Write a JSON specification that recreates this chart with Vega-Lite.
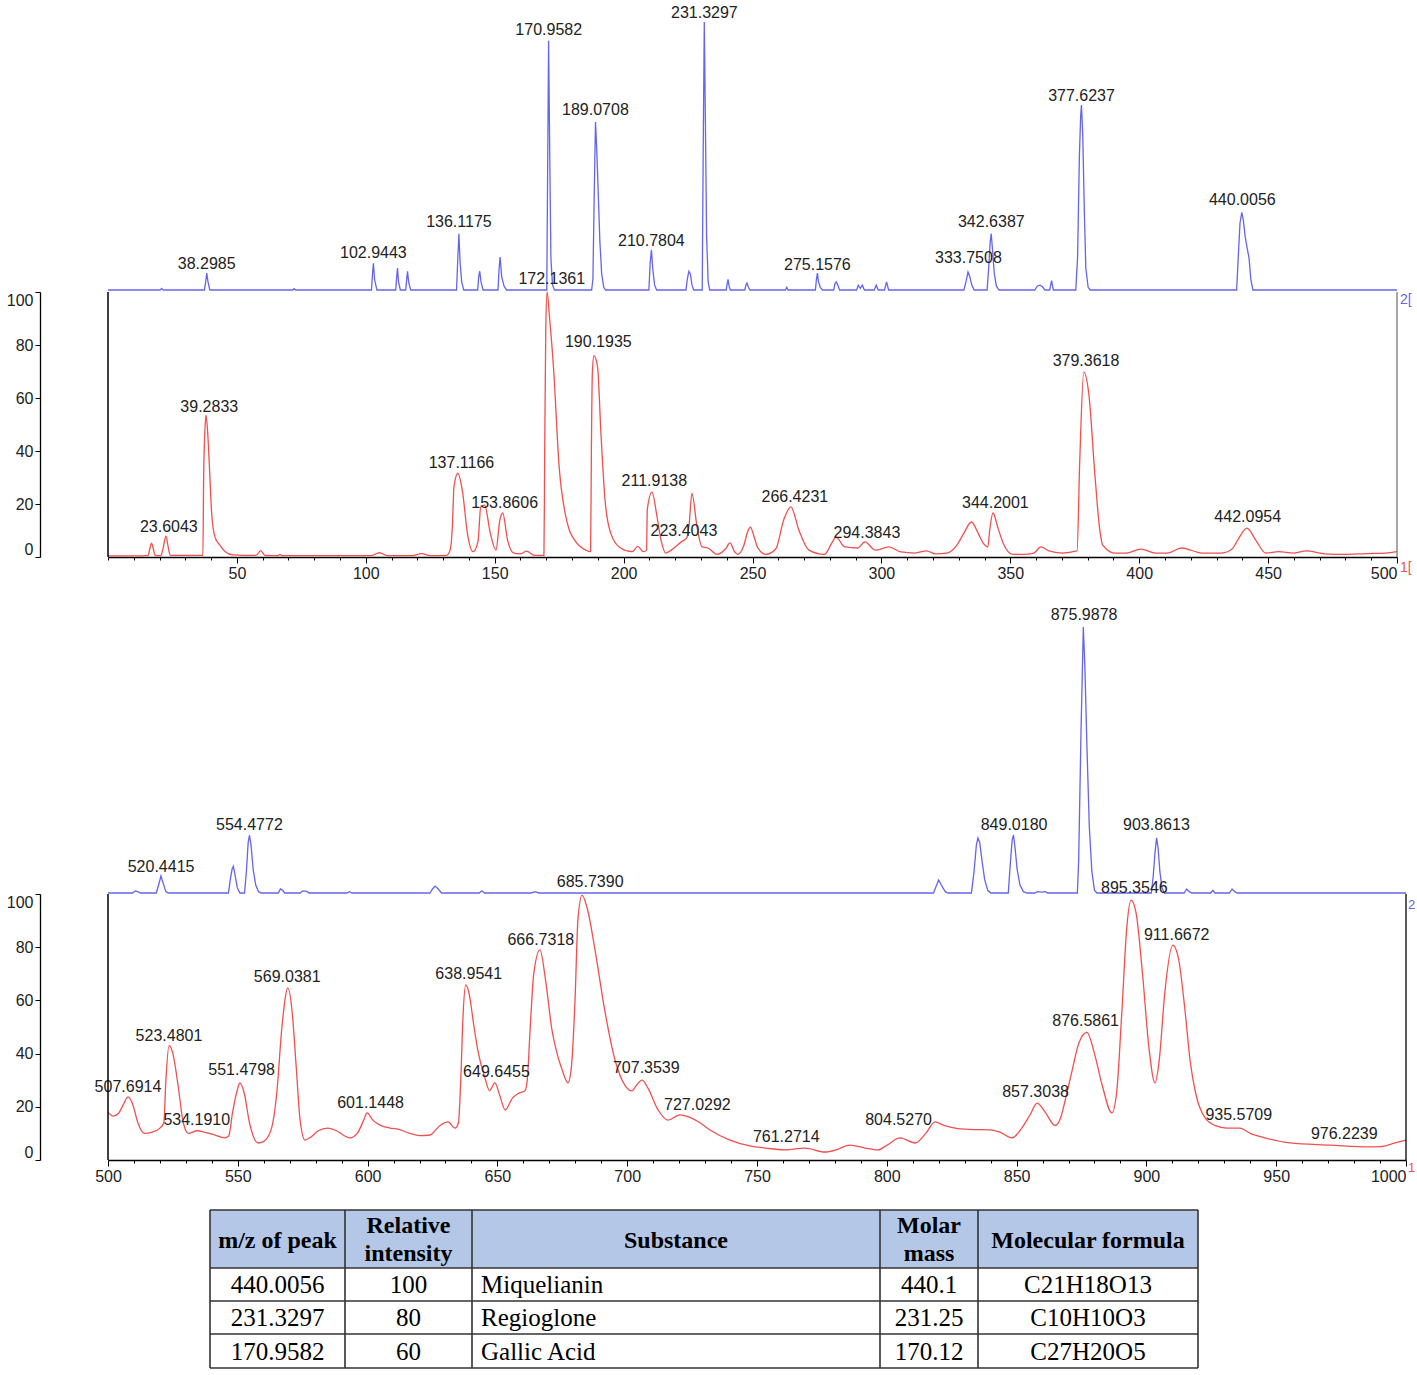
{
"$schema": "https://vega.github.io/schema/vega-lite/v6.json",
"padding": {"left": 6, "top": 0, "right": 0, "bottom": 0},
"spacing": 0,
"bounds": "flush",
"background": "white",
"config": {"view": {"stroke": null}, "font": "Liberation Sans",
  "axis": {"grid": false, "labelFont": "Liberation Sans", "labelFontSize": 16, "labelColor": "#222", "domainColor": "#000", "tickColor": "#000", "labelOverlap": false, "labelPadding": 2, "domainWidth": 1.3, "tickWidth": 1, "labelBound": false}},
"datasets": {
"blueTop": [
{"m":0,"i":0},{"m":20.2,"i":0},{"m":20.8,"i":0.6},{"m":21.4,"i":0},
{"m":37.4,"i":0},{"m":37.9,"i":3},{"m":38.3,"i":6.3},{"m":38.8,"i":3},{"m":39.5,"i":0},
{"m":71.6,"i":0},{"m":72.2,"i":0.5},{"m":72.8,"i":0},
{"m":102.2,"i":0},{"m":102.6,"i":6},{"m":102.95,"i":10},{"m":103.4,"i":4},{"m":104.3,"i":0},
{"m":111.6,"i":0},{"m":112,"i":5},{"m":112.3,"i":8.2},{"m":112.7,"i":3},{"m":113.4,"i":0},
{"m":115.5,"i":0},{"m":115.9,"i":4.5},{"m":116.2,"i":7},{"m":116.6,"i":3},{"m":117.4,"i":0},
{"m":135.2,"i":0},{"m":135.7,"i":12},{"m":136.1,"i":21},{"m":136.6,"i":10},{"m":137.2,"i":3},{"m":138,"i":0},
{"m":143.4,"i":0},{"m":143.8,"i":5},{"m":144.2,"i":7},{"m":144.7,"i":3},{"m":145.5,"i":0},
{"m":151.3,"i":0},{"m":151.7,"i":8},{"m":152.1,"i":12.3},{"m":152.7,"i":5},{"m":153.6,"i":1.5},{"m":154.6,"i":0},
{"m":170.2,"i":0},{"m":170.5,"i":40},{"m":170.9,"i":93},{"m":171.3,"i":55},{"m":171.8,"i":12},{"m":172.4,"i":2},{"m":173.2,"i":0},
{"m":187.6,"i":0},{"m":188.1,"i":4},{"m":188.6,"i":35},{"m":189.1,"i":62.7},{"m":189.6,"i":52},{"m":190.2,"i":35},{"m":190.8,"i":18},{"m":191.5,"i":6},{"m":192.3,"i":1},{"m":193,"i":0},
{"m":209.8,"i":0},{"m":210.3,"i":10},{"m":210.8,"i":15},{"m":211.3,"i":8},{"m":212,"i":2},{"m":212.8,"i":0},
{"m":224.2,"i":0},{"m":224.7,"i":4},{"m":225.3,"i":7},{"m":225.9,"i":6},{"m":226.5,"i":2},{"m":227.2,"i":0},
{"m":230.5,"i":0},{"m":230.9,"i":55},{"m":231.3,"i":100},{"m":231.7,"i":65},{"m":232.2,"i":20},{"m":232.8,"i":3},{"m":233.4,"i":0},
{"m":239.8,"i":0},{"m":240.2,"i":2.5},{"m":240.5,"i":4},{"m":240.9,"i":1.5},{"m":241.4,"i":0},
{"m":247,"i":0},{"m":247.5,"i":2},{"m":247.9,"i":2.6},{"m":248.4,"i":1},{"m":249,"i":0},
{"m":262.8,"i":0},{"m":263.3,"i":1},{"m":263.8,"i":0},
{"m":274.4,"i":0},{"m":274.8,"i":4},{"m":275.2,"i":6.3},{"m":275.6,"i":3},{"m":276.3,"i":1},{"m":277.2,"i":0},
{"m":281.5,"i":0},{"m":282,"i":2.5},{"m":282.5,"i":3},{"m":283,"i":2},{"m":283.8,"i":0},
{"m":290.4,"i":0},{"m":291,"i":1.8},{"m":291.8,"i":0.6},{"m":292.6,"i":1.8},{"m":293.4,"i":0},
{"m":297.2,"i":0},{"m":298,"i":1.8},{"m":298.8,"i":0},
{"m":301.2,"i":0},{"m":302,"i":3},{"m":302.8,"i":0},
{"m":332,"i":0},{"m":332.8,"i":3},{"m":333.6,"i":6.7},{"m":334.3,"i":5},{"m":335,"i":2},{"m":336,"i":0},
{"m":341,"i":0},{"m":341.6,"i":8},{"m":342.2,"i":18},{"m":342.6,"i":21},{"m":343.1,"i":15},{"m":343.8,"i":6},{"m":344.6,"i":1.5},{"m":345.6,"i":0},
{"m":359.5,"i":0},{"m":360.5,"i":1.5},{"m":361.5,"i":1.8},{"m":362.5,"i":1.2},{"m":363.4,"i":0},
{"m":365.3,"i":0},{"m":366,"i":3.5},{"m":366.7,"i":0},
{"m":375.4,"i":0},{"m":376.1,"i":12},{"m":376.8,"i":50},{"m":377.3,"i":65},{"m":377.6,"i":69},{"m":378.1,"i":58},{"m":378.7,"i":30},{"m":379.3,"i":8},{"m":380.2,"i":1},{"m":381,"i":0},
{"m":437.8,"i":0},{"m":438.3,"i":10},{"m":439.1,"i":25},{"m":439.8,"i":29},{"m":440.4,"i":26},{"m":441.1,"i":20},{"m":441.8,"i":16},{"m":442.6,"i":12},{"m":443.3,"i":4},{"m":444.1,"i":0},
{"m":500,"i":0}
],
"labTopBlue": [
{"m":38.2985,"ly":9.7,"t":"38.2985"},{"m":102.9443,"ly":13.8,"t":"102.9443"},{"m":136.1175,"ly":25.4,"t":"136.1175"},
{"m":170.9582,"ly":97,"t":"170.9582"},{"m":189.0708,"ly":67.2,"t":"189.0708"},{"m":210.7804,"ly":18.3,"t":"210.7804"},
{"m":231.3297,"ly":103.4,"t":"231.3297"},{"m":275.1576,"ly":9.3,"t":"275.1576"},{"m":333.7508,"ly":11.9,"t":"333.7508"},
{"m":342.6387,"ly":25.4,"t":"342.6387"},{"m":377.6237,"ly":72.4,"t":"377.6237"},{"m":440.0056,"ly":33.6,"t":"440.0056"}
],
"redTop": [
{"m":0,"i":0.4},{"m":10,"i":0.4},{"m":15.5,"i":0.5},{"m":16.2,"i":3},{"m":16.9,"i":5.2},{"m":17.6,"i":3},{"m":18.3,"i":0.6},{"m":20.5,"i":0.5},{"m":21.3,"i":3},{"m":22.5,"i":7.9},{"m":23.3,"i":4},{"m":24.2,"i":0.6},
{"m":36.8,"i":0.6},{"m":37.1,"i":30},{"m":37.6,"i":48},{"m":38,"i":53.6},{"m":38.6,"i":48},{"m":39.3,"i":35},{"m":40.2,"i":16.6},{"m":41.5,"i":7.5},{"m":43.4,"i":4.5},{"m":45.5,"i":2},{"m":48.5,"i":0.8},
{"m":57.5,"i":0.6},{"m":59.2,"i":2.4},{"m":61,"i":0.6},{"m":66,"i":0.5},{"m":66.7,"i":1},{"m":67.5,"i":0.5},{"m":102,"i":0.5},{"m":105.3,"i":1.6},{"m":108.5,"i":0.5},{"m":118,"i":0.5},{"m":121.6,"i":1.3},{"m":125,"i":0.5},
{"m":131.3,"i":0.6},{"m":132.7,"i":2.6},{"m":133.6,"i":12},{"m":134.2,"i":26.5},{"m":135.7,"i":31.6},{"m":137.6,"i":24},{"m":139.4,"i":9},{"m":141.6,"i":2},{"m":143.5,"i":5.7},{"m":144.6,"i":19},{"m":146.1,"i":19.6},{"m":148.3,"i":9},{"m":150.5,"i":2.6},{"m":152,"i":14},{"m":153.1,"i":16.6},{"m":155,"i":6.4},{"m":157.2,"i":1.6},{"m":160,"i":1.2},{"m":162.4,"i":2.2},{"m":165.4,"i":0.6},{"m":168.4,"i":0.6},
{"m":169.1,"i":0.6},{"m":169.4,"i":40},{"m":169.8,"i":85},{"m":170.3,"i":100},{"m":171.3,"i":90},{"m":172.8,"i":71.7},{"m":175,"i":34},{"m":177.3,"i":16.6},{"m":179,"i":10},{"m":181,"i":6.4},{"m":185.4,"i":2.6},
{"m":187.2,"i":2},{"m":187.5,"i":40},{"m":187.9,"i":70},{"m":188.5,"i":76},{"m":189.9,"i":71.7},{"m":191.2,"i":46.8},{"m":192.8,"i":21.5},{"m":195,"i":9},{"m":198.8,"i":3.4},{"m":203.3,"i":2},{"m":205.5,"i":4},{"m":207.7,"i":2},
{"m":208.9,"i":2.5},{"m":209.2,"i":18},{"m":211,"i":24.5},{"m":213,"i":15},{"m":214.5,"i":6.4},{"m":216.4,"i":1.5},{"m":218.5,"i":2.6},{"m":222.5,"i":5.8},{"m":224.5,"i":7.2},{"m":225.4,"i":12},{"m":226.5,"i":24},{"m":228.5,"i":11.3},{"m":230.4,"i":3.8},{"m":232.7,"i":3.4},{"m":236.2,"i":1},
{"m":239.5,"i":3},{"m":241.3,"i":5.3},{"m":243,"i":2},{"m":244.3,"i":1},{"m":246.5,"i":4},{"m":248.3,"i":10},{"m":249.2,"i":11.3},{"m":250.5,"i":8},{"m":252.1,"i":3.4},{"m":255.2,"i":1},{"m":259,"i":3},{"m":262.1,"i":14},{"m":264.9,"i":18.9},{"m":268,"i":10.1},{"m":271.9,"i":2.6},{"m":277.9,"i":1},
{"m":280.8,"i":5.3},{"m":282.3,"i":7.5},{"m":285.9,"i":3.8},{"m":290.8,"i":3.4},{"m":293.6,"i":5.7},{"m":297.7,"i":2.6},{"m":302.9,"i":3.8},{"m":307.6,"i":1.9},{"m":313,"i":1.5},{"m":317.5,"i":2.3},{"m":321,"i":1.2},{"m":325.4,"i":1.5},
{"m":329.3,"i":4.5},{"m":332,"i":9},{"m":334.9,"i":13.2},{"m":337.5,"i":9},{"m":339.3,"i":5.5},{"m":341.3,"i":3.8},{"m":342,"i":10},{"m":343.3,"i":16.6},{"m":345.2,"i":11},{"m":347.2,"i":5.3},{"m":351,"i":1},{"m":355,"i":1},{"m":359.1,"i":1.5},{"m":361.9,"i":3.8},{"m":365,"i":2.3},{"m":370,"i":1.5},
{"m":375.9,"i":2.3},{"m":376.9,"i":35},{"m":378.5,"i":69.8},{"m":380.4,"i":62},{"m":382.9,"i":30},{"m":384.5,"i":12},{"m":385.8,"i":4.6},{"m":390.6,"i":1.5},{"m":395,"i":1.5},{"m":400.6,"i":3},{"m":406.5,"i":1.5},{"m":411,"i":1.5},{"m":416.4,"i":3.4},{"m":424.4,"i":1.5},{"m":432,"i":1.5},
{"m":436,"i":3},{"m":438.2,"i":6.4},{"m":441.8,"i":10.9},{"m":445.2,"i":6.4},{"m":449.1,"i":1.5},{"m":454.1,"i":2},{"m":460,"i":1.5},{"m":464.9,"i":2.3},{"m":471.9,"i":1.2},{"m":480,"i":1},{"m":488,"i":1.3},{"m":495.6,"i":1.5},{"m":500,"i":2}
],
"labTopRed": [
{"m":23.6043,"ly":11.3,"t":"23.6043"},{"m":39.2833,"ly":56.6,"t":"39.2833"},{"m":137.1166,"ly":35.5,"t":"137.1166"},{"m":153.8606,"ly":20.4,"t":"153.8606"},
{"m":172.1361,"ly":104.9,"t":"172.1361"},{"m":190.1935,"ly":81.1,"t":"190.1935"},{"m":211.9138,"ly":28.7,"t":"211.9138"},{"m":223.4043,"ly":9.8,"t":"223.4043"},
{"m":266.4231,"ly":22.6,"t":"266.4231"},{"m":294.3843,"ly":9.1,"t":"294.3843"},{"m":344.2001,"ly":20.4,"t":"344.2001"},{"m":379.3618,"ly":74,"t":"379.3618"},{"m":442.0954,"ly":15.1,"t":"442.0954"}
],
"blueBot": [
{"m":500,"i":0},{"m":509.5,"i":0},{"m":510.5,"i":0.8},{"m":511.5,"i":0.5},{"m":512.5,"i":0},
{"m":518.6,"i":0},{"m":519.5,"i":3},{"m":520.4,"i":6.4},{"m":521.3,"i":3.5},{"m":522.3,"i":0.5},{"m":523.2,"i":0},
{"m":546.4,"i":0},{"m":547.1,"i":5},{"m":547.8,"i":9},{"m":548.3,"i":10},{"m":548.9,"i":7},{"m":549.8,"i":2},{"m":550.8,"i":0},
{"m":552.6,"i":0},{"m":553.3,"i":8},{"m":554,"i":19},{"m":554.5,"i":21.8},{"m":555.1,"i":18},{"m":555.9,"i":9},{"m":556.9,"i":3},{"m":558,"i":0.5},{"m":559,"i":0},
{"m":565.6,"i":0},{"m":566.4,"i":1.5},{"m":567.3,"i":1},{"m":568,"i":0},
{"m":574,"i":0},{"m":575,"i":0.8},{"m":576.5,"i":0.6},{"m":577.5,"i":0},
{"m":592,"i":0},{"m":593,"i":0.5},{"m":594,"i":0},
{"m":624,"i":0},{"m":625,"i":1.5},{"m":626,"i":2.6},{"m":627.2,"i":1.5},{"m":628.5,"i":0},
{"m":643,"i":0},{"m":644,"i":0.8},{"m":645,"i":0},
{"m":663,"i":0},{"m":664.5,"i":0.5},{"m":666,"i":0},
{"m":818,"i":0},{"m":819,"i":2.5},{"m":820,"i":4.9},{"m":821,"i":3},{"m":822.5,"i":0.5},{"m":823.5,"i":0},
{"m":832.6,"i":0},{"m":833.6,"i":8},{"m":834.5,"i":18},{"m":835.1,"i":20.7},{"m":835.8,"i":19},{"m":836.7,"i":12},{"m":837.7,"i":5},{"m":838.9,"i":1},{"m":840,"i":0},
{"m":846.8,"i":0},{"m":847.5,"i":10},{"m":848.3,"i":20},{"m":848.8,"i":21.8},{"m":849.4,"i":17},{"m":850.2,"i":9},{"m":851.3,"i":3},{"m":852.6,"i":0.5},{"m":854,"i":0},
{"m":857,"i":0},{"m":858,"i":0.5},{"m":860,"i":0.3},{"m":861,"i":0.5},{"m":862,"i":0},
{"m":873.4,"i":0},{"m":873.9,"i":12},{"m":874.8,"i":60},{"m":875.7,"i":100},{"m":876.3,"i":85},{"m":877.1,"i":55},{"m":878,"i":25},{"m":879,"i":8},{"m":880,"i":1},{"m":881,"i":0},
{"m":901.9,"i":0},{"m":902.6,"i":6},{"m":903.3,"i":15},{"m":903.9,"i":20.7},{"m":904.5,"i":17},{"m":905.2,"i":8},{"m":906,"i":2},{"m":906.9,"i":0},
{"m":914.5,"i":0},{"m":915.5,"i":1.5},{"m":916.5,"i":0.5},{"m":917.5,"i":0},
{"m":924.8,"i":0},{"m":925.6,"i":1},{"m":926.4,"i":0},
{"m":932,"i":0},{"m":933,"i":1.5},{"m":934,"i":0.5},{"m":935,"i":0},
{"m":1000,"i":0}
],
"labBotBlue": [
{"m":520.4415,"ly":9.8,"t":"520.4415"},{"m":554.4772,"ly":25.6,"t":"554.4772"},{"m":849.018,"ly":25.6,"t":"849.0180"},{"m":875.9878,"ly":104.5,"t":"875.9878"},{"m":903.8613,"ly":25.6,"t":"903.8613"}
],
"redBot": [
{"m":500,"i":18},{"m":502,"i":16.5},{"m":504,"i":17.5},{"m":506,"i":21},{"m":507.7,"i":23.7},{"m":509.5,"i":21},{"m":511.5,"i":14},{"m":514,"i":10},{"m":517,"i":10.5},{"m":520,"i":12},{"m":521.5,"i":14},{"m":522.3,"i":30},{"m":523.5,"i":43},{"m":525,"i":40},{"m":527,"i":28},{"m":529,"i":14},{"m":531,"i":10},{"m":534.3,"i":11},{"m":537,"i":10.5},{"m":541,"i":9.4},{"m":545,"i":8.3},{"m":546.5,"i":9},{"m":548,"i":18},{"m":550,"i":27},{"m":550.8,"i":29},{"m":552.5,"i":25},{"m":554.5,"i":14},{"m":557.8,"i":6.4},{"m":560,"i":7},{"m":563,"i":12},{"m":565,"i":25},{"m":567,"i":50},{"m":569.3,"i":64.7},{"m":571,"i":55},{"m":572.5,"i":35},{"m":574,"i":15},{"m":575.9,"i":7.5},{"m":578,"i":8.5},{"m":581,"i":11},{"m":584.7,"i":12},{"m":588,"i":11},{"m":593.2,"i":8.3},{"m":596,"i":10},{"m":598.5,"i":15},{"m":599.8,"i":17.7},{"m":602,"i":15},{"m":605,"i":13},{"m":608.6,"i":12},{"m":612,"i":11.5},{"m":616.3,"i":10},{"m":620,"i":9.2},{"m":624,"i":9.4},{"m":627.9,"i":13},{"m":631,"i":14.3},{"m":633.7,"i":12},{"m":635,"i":14},{"m":635.8,"i":28},{"m":636.8,"i":55},{"m":637.8,"i":65.8},{"m":639,"i":63},{"m":641,"i":50},{"m":642.5,"i":41},{"m":645.2,"i":30.8},{"m":647,"i":26},{"m":649,"i":29},{"m":651,"i":24},{"m":653,"i":18.8},{"m":655.6,"i":23},{"m":658,"i":25},{"m":660.6,"i":26},{"m":661.5,"i":30},{"m":662.6,"i":49},{"m":664,"i":70},{"m":666.4,"i":79},{"m":668.5,"i":68},{"m":671,"i":49},{"m":673,"i":40},{"m":674.9,"i":34},{"m":677.2,"i":29},{"m":678.5,"i":35},{"m":679.9,"i":60},{"m":681,"i":90},{"m":682.6,"i":99.6},{"m":684.5,"i":95},{"m":687.6,"i":79},{"m":691.4,"i":56},{"m":695.3,"i":37.6},{"m":699.2,"i":28},{"m":701.8,"i":26},{"m":703.5,"i":28},{"m":705.7,"i":30},{"m":708,"i":27},{"m":711.9,"i":18.8},{"m":715.7,"i":15},{"m":720.3,"i":17},{"m":724.2,"i":16},{"m":728,"i":14},{"m":731.9,"i":11.3},{"m":739.6,"i":7.5},{"m":747.3,"i":5.3},{"m":753.1,"i":4.5},{"m":760.8,"i":3.8},{"m":768.5,"i":4.5},{"m":776.2,"i":3},{"m":781,"i":4},{"m":785.8,"i":5.6},{"m":791.6,"i":4.5},{"m":796.6,"i":3.8},{"m":800,"i":5.5},{"m":805.1,"i":8.3},{"m":810.9,"i":6.4},{"m":815,"i":10},{"m":818.6,"i":14.3},{"m":822,"i":13},{"m":826.3,"i":12},{"m":832,"i":11.5},{"m":839.8,"i":11.3},{"m":843.6,"i":10.5},{"m":848.2,"i":8.3},{"m":852,"i":12},{"m":855.2,"i":17},{"m":857.9,"i":21.4},{"m":861,"i":18},{"m":864.8,"i":13},{"m":867,"i":16},{"m":868.6,"i":22},{"m":871,"i":32},{"m":874,"i":44},{"m":877.1,"i":48},{"m":880,"i":40},{"m":883,"i":28},{"m":886.7,"i":17.7},{"m":888.5,"i":25},{"m":890.5,"i":55},{"m":892.5,"i":88},{"m":894.1,"i":97.7},{"m":896,"i":93},{"m":898.5,"i":70},{"m":901,"i":42},{"m":903.3,"i":29},{"m":905,"i":38},{"m":907,"i":62},{"m":910.2,"i":80.8},{"m":912.5,"i":75},{"m":915,"i":55},{"m":916.8,"i":37.6},{"m":919,"i":25},{"m":922.6,"i":15.8},{"m":926.4,"i":13},{"m":931,"i":12},{"m":936,"i":12},{"m":940,"i":10},{"m":945.7,"i":8.3},{"m":955.3,"i":6.4},{"m":970.7,"i":5.6},{"m":986.1,"i":4.9},{"m":990,"i":5},{"m":995.8,"i":6.4},{"m":1000,"i":7.5}
],
"labBotRed": [
{"m":507.6914,"ly":27.4,"t":"507.6914"},{"m":523.4801,"ly":46.6,"t":"523.4801"},{"m":534.191,"ly":15,"t":"534.1910"},{"m":551.4798,"ly":33.8,"t":"551.4798"},{"m":569.0381,"ly":68.8,"t":"569.0381"},
{"m":601.1448,"ly":21.4,"t":"601.1448"},{"m":638.9541,"ly":69.9,"t":"638.9541"},{"m":649.6455,"ly":33.1,"t":"649.6455"},{"m":666.7318,"ly":82.7,"t":"666.7318"},{"m":685.739,"ly":104.5,"t":"685.7390"},
{"m":707.3539,"ly":34.6,"t":"707.3539"},{"m":727.0292,"ly":20.7,"t":"727.0292"},{"m":761.2714,"ly":8.6,"t":"761.2714"},{"m":804.527,"ly":15,"t":"804.5270"},{"m":857.3038,"ly":25.6,"t":"857.3038"},
{"m":876.5861,"ly":52.3,"t":"876.5861"},{"m":895.3546,"ly":102.3,"t":"895.3546"},{"m":911.6672,"ly":84.6,"t":"911.6672"},{"m":935.5709,"ly":16.9,"t":"935.5709"},{"m":976.2239,"ly":9.8,"t":"976.2239"}
],
"hlines": [{"r":0},{"r":1},{"r":2},{"r":3},{"r":4}],
"vlines": [{"c":0},{"c":1},{"c":2},{"c":3},{"c":4},{"c":5}],
"thead": [
{"c":0.5,"r":0.53,"t":"m/z of peak"},{"c":1.5,"r":0.28,"t":"Relative"},{"c":1.5,"r":0.76,"t":"intensity"},{"c":2.5,"r":0.53,"t":"Substance"},{"c":3.5,"r":0.28,"t":"Molar"},{"c":3.5,"r":0.76,"t":"mass"},{"c":4.5,"r":0.53,"t":"Molecular formula"}
],
"tbody": [
{"c":0.5,"r":1.52,"t":"440.0056"},{"c":1.5,"r":1.52,"t":"100"},{"c":3.5,"r":1.52,"t":"440.1"},{"c":4.5,"r":1.52,"t":"C21H18O13"},
{"c":0.5,"r":2.52,"t":"231.3297"},{"c":1.5,"r":2.52,"t":"80"},{"c":3.5,"r":2.52,"t":"231.25"},{"c":4.5,"r":2.52,"t":"C10H10O3"},
{"c":0.5,"r":3.52,"t":"170.9582"},{"c":1.5,"r":3.52,"t":"60"},{"c":3.5,"r":3.52,"t":"170.12"},{"c":4.5,"r":3.52,"t":"C27H20O5"}
],
"tsub": [
{"c":2,"r":1.52,"t":"Miquelianin"},{"c":2,"r":2.52,"t":"Regioglone"},{"c":2,"r":3.52,"t":"Gallic Acid"}
]
},
"vconcat": [
{
 "width": 1289, "height": 292,
 "layer": [
  {"data": {"name": "blueTop"}, "mark": {"type": "line", "color": "#6464ee", "strokeWidth": 1.3},
   "encoding": {"x": {"field": "m", "type": "quantitative", "scale": {"domain": [0, 500], "nice": false, "zero": false}, "axis": null},
                "y": {"field": "i", "type": "quantitative", "scale": {"domain": [-0.75, 108.2], "nice": false, "zero": false}, "axis": null}}},
  {"data": {"name": "labTopBlue"}, "mark": {"type": "text", "fontSize": 16, "color": "#222", "baseline": "middle"},
   "encoding": {"x": {"field": "m", "type": "quantitative", "scale": {"domain": [0, 500], "nice": false, "zero": false}, "axis": null},
                "y": {"field": "ly", "type": "quantitative", "scale": {"domain": [-0.75, 108.2], "nice": false, "zero": false}, "axis": null},
                "text": {"field": "t"}}}
 ]
},
{
 "width": 1289, "height": 265,
 "resolve": {"axis": {"x": "independent"}},
 "layer": [
  {"data": {"name": "redTop"}, "mark": {"type": "line", "color": "#f0504f", "strokeWidth": 1.3, "interpolate": "monotone"},
   "encoding": {
    "x": {"field": "m", "type": "quantitative", "scale": {"domain": [0, 500], "nice": false, "zero": false},
          "axis": {"title": null, "format": "d", "orient": "bottom", "labelOverlap": false, "values": [50,100,150,200,250,300,350,400,450,500],
                   "tickSize": 6,
                   "labelAlign": {"condition": {"test": "datum.value == 500", "value": "right"}, "value": "center"}}},
    "y": {"field": "i", "type": "quantitative", "scale": {"domain": [0, 100], "nice": false, "zero": false},
          "axis": {"title": null, "format": "d", "labelOverlap": false, "offset": 68, "labelFlush": true, "values": [0,5,10,15,20,25,30,35,40,45,50,55,60,65,70,75,80,85,90,95,100],
                   "labelExpr": "datum.value % 20 == 0 ? datum.label : ''",
                   "tickSize": {"condition": {"test": "datum.value % 20 == 0", "value": 5}, "value": 2.5}}}}},
  {"data": {"name": "labTopRed"}, "mark": {"type": "text", "fontSize": 16, "color": "#222", "baseline": "middle"},
   "encoding": {"x": {"field": "m", "type": "quantitative",
                      "axis": {"title": null, "orient": "bottom", "labels": false, "domain": false, "tickSize": 3, "values": [0,10,20,30,40,60,70,80,90,110,120,130,140,160,170,180,190,210,220,230,240,260,270,280,290,310,320,330,340,360,370,380,390,410,420,430,440,460,470,480,490]}},
                "y": {"field": "ly", "type": "quantitative"}, "text": {"field": "t"}}},
  {"data": {"values": [{}]}, "mark": {"type": "rule", "color": "#000", "strokeWidth": 1.5}, "encoding": {"x": {"datum": 0, "axis": null}}},
  {"data": {"values": [{}]}, "mark": {"type": "rule", "color": "#777", "strokeWidth": 1.3}, "encoding": {"x": {"datum": 500, "axis": null}}},
  {"data": {"values": [{}]}, "mark": {"type": "text", "fontSize": 14, "color": "#6464ee", "align": "left", "dx": 3, "baseline": "middle"}, "encoding": {"x": {"datum": 500, "axis": null}, "y": {"datum": 97}, "text": {"value": "2["}}},
  {"data": {"values": [{}]}, "mark": {"type": "text", "fontSize": 14, "color": "#f0504f", "align": "left", "dx": 3, "baseline": "middle"}, "encoding": {"x": {"datum": 500, "axis": null}, "y": {"datum": -4}, "text": {"value": "1["}}}
 ]
},
{
 "width": 1298, "height": 337,
 "layer": [
  {"data": {"name": "blueBot"}, "mark": {"type": "line", "color": "#6464ee", "strokeWidth": 1.3},
   "encoding": {"x": {"field": "m", "type": "quantitative", "scale": {"domain": [500, 1000], "nice": false, "zero": false}, "axis": null},
                "y": {"field": "i", "type": "quantitative", "scale": {"domain": [-0.38, 126.3], "nice": false, "zero": false}, "axis": null}}},
  {"data": {"name": "labBotBlue"}, "mark": {"type": "text", "fontSize": 16, "color": "#222", "baseline": "middle"},
   "encoding": {"x": {"field": "m", "type": "quantitative", "scale": {"domain": [500, 1000], "nice": false, "zero": false}, "axis": null},
                "y": {"field": "ly", "type": "quantitative", "scale": {"domain": [-0.38, 126.3], "nice": false, "zero": false}, "axis": null},
                "text": {"field": "t"}}}
 ]
},
{
 "width": 1298, "height": 266,
 "resolve": {"axis": {"x": "independent"}},
 "layer": [
  {"data": {"name": "redBot"}, "mark": {"type": "line", "color": "#f0504f", "strokeWidth": 1.3, "interpolate": "monotone"},
   "encoding": {
    "x": {"field": "m", "type": "quantitative", "scale": {"domain": [500, 1000], "nice": false, "zero": false},
          "axis": {"title": null, "format": "d", "orient": "bottom", "labelOverlap": false, "values": [500,550,600,650,700,750,800,850,900,950,1000],
                   "tickSize": 6,
                   "labelAlign": {"condition": {"test": "datum.value == 1000", "value": "right"}, "value": "center"}}},
    "y": {"field": "i", "type": "quantitative", "scale": {"domain": [0, 100], "nice": false, "zero": false},
          "axis": {"title": null, "format": "d", "labelOverlap": false, "offset": 68, "labelFlush": true, "values": [0,5,10,15,20,25,30,35,40,45,50,55,60,65,70,75,80,85,90,95,100],
                   "labelExpr": "datum.value % 20 == 0 ? datum.label : ''",
                   "tickSize": {"condition": {"test": "datum.value % 20 == 0", "value": 5}, "value": 2.5}}}}},
  {"data": {"name": "labBotRed"}, "mark": {"type": "text", "fontSize": 16, "color": "#222", "baseline": "middle"},
   "encoding": {"x": {"field": "m", "type": "quantitative",
                      "axis": {"title": null, "orient": "bottom", "labels": false, "domain": false, "tickSize": 3, "values": [510,520,530,540,560,570,580,590,610,620,630,640,660,670,680,690,710,720,730,740,760,770,780,790,810,820,830,840,860,870,880,890,910,920,930,940,960,970,980,990]}},
                "y": {"field": "ly", "type": "quantitative"}, "text": {"field": "t"}}},
  {"data": {"values": [{}]}, "mark": {"type": "rule", "color": "#000", "strokeWidth": 1.5}, "encoding": {"x": {"datum": 500, "axis": null}}},
  {"data": {"values": [{}]}, "mark": {"type": "rule", "color": "#000", "strokeWidth": 1.3}, "encoding": {"x": {"datum": 1000, "axis": null}}},
  {"data": {"values": [{}]}, "mark": {"type": "text", "fontSize": 13, "color": "#6464ee", "align": "left", "dx": 2, "baseline": "middle"}, "encoding": {"x": {"datum": 1000, "axis": null}, "y": {"datum": 96}, "text": {"value": "2"}}},
  {"data": {"values": [{}]}, "mark": {"type": "text", "fontSize": 13, "color": "#f0504f", "align": "left", "dx": 2, "baseline": "middle"}, "encoding": {"x": {"datum": 1000, "axis": null}, "y": {"datum": -3}, "text": {"value": "1"}}}
 ]
},
{
 "width": 1298, "height": 215,
 "layer": [
  {"data": {"values": [{}]}, "mark": {"type": "rect", "fill": "#b4c7e7"},
   "encoding": {"x": {"datum": 0, "scale": {"domain": [0,1,2,3,4,5], "range": [102,237,364,772,870,1090], "nice": false, "zero": false}, "axis": null}, "x2": {"datum": 5},
                "y": {"datum": 0, "scale": {"domain": [0,1,2,3,4], "range": [50,108,141,174,208], "nice": false, "zero": false}, "axis": null}, "y2": {"datum": 1}}},
  {"data": {"name": "hlines"}, "mark": {"type": "rule", "color": "#333", "strokeWidth": 1.6},
   "encoding": {"x": {"datum": 0}, "x2": {"datum": 5}, "y": {"field": "r", "type": "quantitative"}}},
  {"data": {"name": "vlines"}, "mark": {"type": "rule", "color": "#333", "strokeWidth": 1.6},
   "encoding": {"x": {"field": "c", "type": "quantitative"}, "y": {"datum": 0}, "y2": {"datum": 4}}},
  {"data": {"name": "thead"}, "mark": {"type": "text", "font": "Liberation Serif", "fontSize": 24, "fontWeight": "bold", "baseline": "middle", "align": "center", "color": "#000"},
   "encoding": {"x": {"field": "c", "type": "quantitative"}, "y": {"field": "r", "type": "quantitative"}, "text": {"field": "t"}}},
  {"data": {"name": "tbody"}, "mark": {"type": "text", "font": "Liberation Serif", "fontSize": 25, "baseline": "middle", "align": "center", "color": "#000"},
   "encoding": {"x": {"field": "c", "type": "quantitative"}, "y": {"field": "r", "type": "quantitative"}, "text": {"field": "t"}}},
  {"data": {"name": "tsub"}, "mark": {"type": "text", "font": "Liberation Serif", "fontSize": 25, "baseline": "middle", "align": "left", "dx": 9, "color": "#000"},
   "encoding": {"x": {"field": "c", "type": "quantitative"}, "y": {"field": "r", "type": "quantitative"}, "text": {"field": "t"}}}
 ]
}
]
}
